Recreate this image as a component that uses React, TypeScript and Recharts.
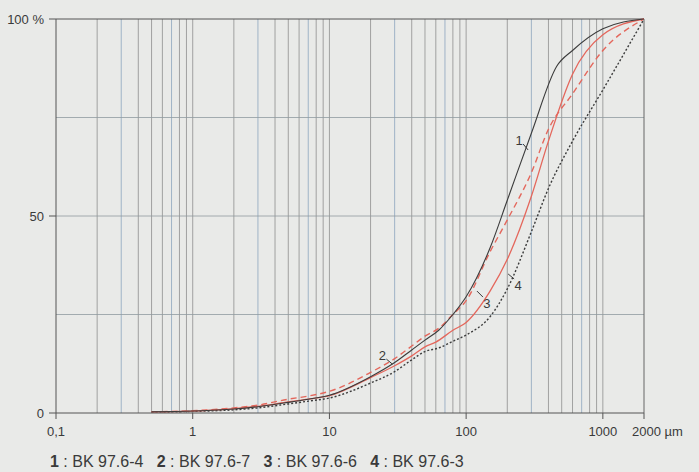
import { LineChart, Line, XAxis, YAxis, ReferenceLine, ReferenceDot } from "recharts"

// grain size (µm) and cumulative passing (%)
const sizes1 = [0.5, 1, 2, 3, 5, 7, 10, 20, 30, 40, 50, 63, 80, 100, 150, 200, 300, 460, 600, 1000, 2000]
const pass1 = [0.3, 0.5, 1.0, 1.6, 2.7, 3.5, 4.5, 9.2, 12.8, 16, 18.5, 21, 25, 29.5, 42, 54, 71, 88, 92, 97.5, 100]

const sizes2 = [0.5, 1, 2, 3, 5, 7, 10, 20, 30, 40, 50, 63, 80, 100, 150, 200, 300, 400, 600, 1000, 2000]
const pass2 = [0.3, 0.6, 1.3, 2, 3.5, 4.3, 5.5, 10.3, 13.8, 17, 19.5, 21.5, 25, 28.5, 41, 49, 61, 72, 81, 92, 100]

const sizes3 = [0.5, 1, 2, 3, 5, 7, 10, 20, 30, 40, 50, 60, 80, 100, 150, 200, 300, 400, 600, 1000, 2000]
const pass3 = [0.3, 0.5, 1.1, 1.7, 2.8, 3.5, 4.4, 9, 12, 14.5, 16.8, 18, 21, 23, 31, 39, 55, 69, 86, 96, 100]

const sizes4 = [0.5, 1, 2, 3, 5, 7, 10, 20, 30, 40, 50, 63, 80, 100, 150, 200, 300, 400, 600, 1000, 2000]
const pass4 = [0.2, 0.4, 0.8, 1.3, 2.3, 3, 3.8, 7.6, 10.5, 13.5, 15.6, 16.5, 18.2, 19.8, 24.5, 31.5, 46, 57, 69, 82, 100]

const xTicks = [0.1, 1, 10, 100, 1000, 2000]
const xTickLabels = ["0,1", "1", "10", "100", "1000", "2000 µm"]
const yTicks = [0, 50, 100]
const yTickLabels = ["0", "50", "100 %"]

const gridGray = [0.2, 0.4, 0.5, 0.6, 0.8, 0.9, 1, 2, 4, 5, 6, 8, 9, 10, 20, 40, 50, 60, 80, 90, 100, 200, 400, 500, 600, 800, 900, 1000]
const gridBlue = [0.3, 0.7, 3, 7, 30, 70, 300, 700]

const legend = [
  { num: "1", name: "BK 97.6-4" },
  { num: "2", name: "BK 97.6-7" },
  { num: "3", name: "BK 97.6-6" },
  { num: "4", name: "BK 97.6-3" },
]

// curve number labels: text position and leader direction
const curveLabels = [
  { num: "1", x: 244, y: 69.3, lx: 5, ly: 6 },
  { num: "2", x: 24.4, y: 14.7, lx: 6, ly: 5 },
  { num: "3", x: 142, y: 27.9, lx: -6, ly: -6 },
  { num: "4", x: 240, y: 32.5, lx: -6, ly: -5 },
]

const toData = (xs: number[], ys: number[]) => xs.map((x, i) => ({ x, y: ys[i] }))

const BLACK = "#3c3c3c"
const RED = "#e4675c"
const TEXT = "#3a3a3a"

const XTick = (props: any) => {
  const { x, y, payload } = props
  const i = xTicks.indexOf(payload.value)
  const label = xTickLabels[i] ?? String(payload.value)
  if (payload.value === 2000) {
    return (
      <text x={x - 12} y={y} dy="0.71em" textAnchor="start" fontSize={13} fill={TEXT}>
        {label}
      </text>
    )
  }
  return (
    <text x={x} y={y} dy="0.71em" textAnchor="middle" fontSize={13} fill={TEXT}>
      {label}
    </text>
  )
}

const YTick = (props: any) => {
  const { x, y, payload } = props
  const i = yTicks.indexOf(payload.value)
  return (
    <text x={x} y={y} dy="0.36em" textAnchor="end" fontSize={13} fill={TEXT}>
      {yTickLabels[i]}
    </text>
  )
}

export default function App() {
  return (
    <div
      style={{
        position: "absolute",
        left: 0,
        top: 0,
        width: 699,
        height: 472,
        background: "#e9eae8",
        fontFamily: "'Liberation Sans', Arial, sans-serif",
      }}
    >
      <LineChart width={699} height={472} margin={{ top: 19, right: 55, left: 0, bottom: 29 }}>
        {gridGray.map((v) => (
          <ReferenceLine key={"g" + v} x={v} stroke="#8e8e8e" strokeWidth={0.8} />
        ))}
        {gridBlue.map((v) => (
          <ReferenceLine key={"b" + v} x={v} stroke="#9fb3c6" strokeWidth={1} />
        ))}
        {[25, 50, 75].map((v) => (
          <ReferenceLine key={"h" + v} y={v} stroke="#8f9aa0" strokeWidth={0.8} />
        ))}
        <ReferenceLine y={100} stroke="#555" strokeWidth={1} />
        <ReferenceLine x={2000} stroke="#666" strokeWidth={1} />
        <XAxis
          dataKey="x"
          type="number"
          scale="log"
          domain={[0.1, 2000]}
          allowDataOverflow
          ticks={xTicks}
          tick={<XTick />}
          tickSize={6}
          tickMargin={8}
          height={30}
          stroke="#555"
        />
        <YAxis
          type="number"
          domain={[0, 100]}
          ticks={yTicks}
          tick={<YTick />}
          tickSize={7}
          tickMargin={5}
          width={56}
          stroke="#555"
        />
        <Line data={toData(sizes4, pass4)} dataKey="y" type="monotone" stroke={BLACK} strokeWidth={1.4} strokeDasharray="2 2" dot={false} isAnimationActive={false} />
        <Line data={toData(sizes2, pass2)} dataKey="y" type="monotone" stroke={RED} strokeWidth={1.4} strokeDasharray="6 4" dot={false} isAnimationActive={false} />
        <Line data={toData(sizes3, pass3)} dataKey="y" type="monotone" stroke={RED} strokeWidth={1.3} dot={false} isAnimationActive={false} />
        <Line data={toData(sizes1, pass1)} dataKey="y" type="monotone" stroke={BLACK} strokeWidth={1.1} dot={false} isAnimationActive={false} />
        {curveLabels.map((c) => (
          <ReferenceDot
            key={"l" + c.num}
            x={c.x}
            y={c.y}
            r={0}
            shape={(p: any) => (
              <g>
                <text x={p.cx} y={p.cy} dy="0.36em" textAnchor="middle" fontSize={13} fill={TEXT}>
                  {c.num}
                </text>
                <line
                  x1={p.cx + (c.lx > 0 ? 4 : -4)}
                  y1={p.cy + (c.ly > 0 ? 4 : -6)}
                  x2={p.cx + (c.lx > 0 ? 4 : -4) + c.lx}
                  y2={p.cy + (c.ly > 0 ? 4 : -6) + c.ly}
                  stroke={TEXT}
                  strokeWidth={1}
                />
              </g>
            )}
          />
        ))}
      </LineChart>
      <div
        style={{
          position: "absolute",
          left: 50,
          top: 452,
          fontSize: 16,
          color: TEXT,
          whiteSpace: "pre",
          lineHeight: "20px",
        }}
      >
        {legend.map((l, i) => (
          <span key={l.num}>
            <b>{l.num}</b>
            {" : " + l.name + (i < legend.length - 1 ? "   " : "")}
          </span>
        ))}
      </div>
    </div>
  )
}
